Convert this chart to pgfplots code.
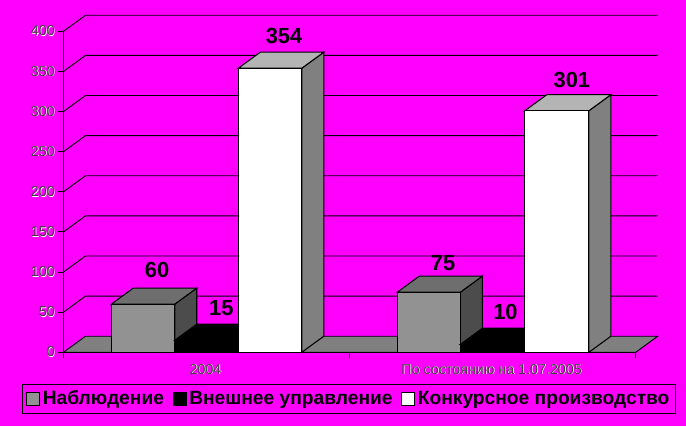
\documentclass[border=0pt]{standalone}
\usepackage{pgfplots}
\pgfplotsset{compat=1.18}
\usepackage{fontspec}
\setmainfont{Liberation Sans}

% thin tick text with the light fringe of the original
\newcommand{\halo}[1]{\rlap{\kern.45pt\raisebox{-.45pt}{\textcolor{white}{#1}}}\textcolor{black!75}{#1}}

\definecolor{bg}{HTML}{FF00FF}
\definecolor{gfront}{HTML}{929292}
\definecolor{gtop}{HTML}{6E6E6E}
\definecolor{gside}{HTML}{4C4C4C}
\definecolor{wtop}{HTML}{B4B4B4}
\definecolor{wside}{HTML}{808080}

% x0, x1, value, front, top, side -- depth is 22 x units and 20 y units
\newcommand{\cube}[6]{%
  \addplot[forget plot,draw=black,fill=#6,line width=.8pt] coordinates {(#2,0) (#2+22,20) (#2+22,#3+20) (#2,#3)} --cycle;
  \addplot[forget plot,draw=black,fill=#5,line width=.8pt] coordinates {(#1,#3) (#1+22,#3+20) (#2+22,#3+20) (#2,#3)} --cycle;
  \addplot[forget plot,draw=black,fill=#4,line width=.8pt] coordinates {(#1,0) (#1,#3) (#2,#3) (#2,0)} --cycle;
}
\newcommand{\grid}[1]{%
  \addplot[forget plot,black,line width=.7pt] coordinates {(0,#1) (22,#1+20) (594,#1+20)};
}
\newcommand{\val}[3]{\node[font=\bfseries\fontsize{16.4pt}{18pt}\selectfont] at (axis cs:#1,#2) {#3};}

\begin{document}
\begin{tikzpicture}
\path[fill=bg,use as bounding box] (0,0) rectangle (514.5pt,319.5pt);
\begin{axis}[
  at={(47.625pt,55.275pt)},
  anchor=origin,
  scale only axis,
  width=429.15pt,
  height=240.75pt,
  xmin=0,xmax=572,
  ymin=0,ymax=400,
  clip=false,
  axis x line*=bottom,
  axis y line*=left,
  axis line style={-,line width=.7pt},
  tick style={black,line width=.7pt},
  major tick length=4pt,
  tick align=outside,
  xtick={0,286,572},
  xticklabels={,,},
  extra x ticks={142,428},
  extra x tick labels={\halo{2004},\halo{По состоянию на 1.07.2005}},
  extra x tick style={major tick length=0pt},
  ytick={0,50,...,400},
  yticklabels={\halo{0},\halo{50},\halo{100},\halo{150},\halo{200},\halo{250},\halo{300},\halo{350},\halo{400}},
  tick label style={font=\fontsize{10.7pt}{12pt}\selectfont},
  xticklabel style={yshift=-5.5pt},
  yticklabel style={xshift=1pt},
  legend image code/.code={\draw[#1,draw=black,line width=.7pt] (0pt,-4.5pt) rectangle (9.75pt,5.25pt);},
  legend columns=3,
  legend style={
    at={(axis description cs:0.4992,-0.1464)},anchor=center,
    draw=black,line width=.7pt,fill=none,
    font=\bfseries\fontsize{14.4pt}{16pt}\selectfont,
    inner xsep=2.5pt,inner ysep=2pt,
    nodes={text height=10.5pt,text depth=3pt},
    /tikz/every even column/.style={column sep=4.5pt},
  },
]
\addplot[forget plot,draw=black,fill=wside,line width=.7pt] coordinates {(0,0) (22,20) (594,20) (572,0)} --cycle;
\grid{50}\grid{100}\grid{150}\grid{200}\grid{250}\grid{300}\grid{350}\grid{400}

\cube{47.8}{111.2}{60}{gfront}{gtop}{gside}
\cube{111.2}{174.8}{15}{black}{black}{black}
\cube{174.8}{238.2}{354}{white}{wtop}{wside}
\cube{333.8}{396.8}{75}{gfront}{gtop}{gside}
\cube{396.8}{461.2}{10}{black}{black}{black}
\cube{461.2}{525.2}{301}{white}{wtop}{wside}

\val{93.5}{103.0}{60}
\val{157.8}{55}{15}
\val{220.5}{394}{354}
\val{379.5}{111.3}{75}
\val{441.8}{50.7}{10}
\val{508.2}{339.3}{301}

\addlegendimage{fill=gfront}
\addlegendentry{Наблюдение}
\addlegendimage{fill=black}
\addlegendentry{Внешнее управление}
\addlegendimage{fill=white}
\addlegendentry{Конкурсное производство}
\end{axis}
\end{tikzpicture}
\end{document}
